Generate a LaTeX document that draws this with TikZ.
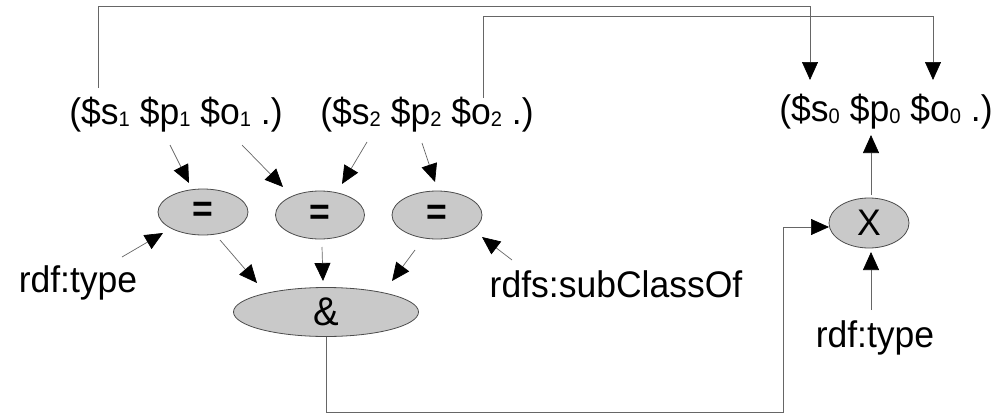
\documentclass[tikz,border=0pt]{standalone}
\usepackage{fontspec}
\setmainfont[FakeStretch=0.96]{Liberation Sans}
\usetikzlibrary{shapes.geometric,arrows.meta,calc}
\newcommand\subd[1]{\raisebox{-1.5pt}{\fontsize{21}{22}\selectfont #1}}
\begin{document}
\begin{tikzpicture}[x=1pt,y=-1pt,
  every node/.style={inner sep=0pt,font=\fontsize{37}{40}\selectfont},
  op/.style={ellipse,draw=black!70,line width=0.8pt,fill=black!21},
  arr/.style={draw=black!60,line width=0.7pt,-{Triangle[length=18pt,width=16pt,black]}},
  ln/.style={draw=black!60,line width=0.7pt}]
\useasboundingbox (0,0) rectangle (998,415);
% triples
\node (t1) at (176,115) {(\$s\subd{1} \$p\subd{1} \$o\subd{1} .)};
\node (t2) at (427,115) {(\$s\subd{2} \$p\subd{2} \$o\subd{2} .)};
\node (t0) at (886,112) {(\$s\subd{0} \$p\subd{0} \$o\subd{0} .)};
% operators
\node[op,minimum width=90pt,minimum height=46pt] (eq1) at (203,212) {\textbf{=}};
\node[op,minimum width=89pt,minimum height=48pt] (eq2) at (320,215) {\textbf{=}};
\node[op,minimum width=90pt,minimum height=48pt] (eq3) at (437,215) {\textbf{=}};
\node[op,minimum width=185pt,minimum height=49pt] (amp) at (326,312) {\fontsize{40}{42}\selectfont\&};
\node[op,minimum width=80pt,minimum height=50pt] (X) at (869,223) {X};
% labels
\node (l1) at (78,283) {rdf:type};
\node (l2) at (616,284) {rdfs:subClassOf};
\node (l3) at (875,338) {rdf:type};
% level coordinates
\coordinate (top1) at (0,6);
\coordinate (top2) at (0,16);
\coordinate (bot) at (783,412);
% arrows into = nodes
\draw[arr] ([shift={(-6,30)}]t1.center) -- ([shift={(-14,-29)}]eq1.center);
\draw[arr] ([shift={(66,30)}]t1.center) -- ([shift={(-37,-28)}]eq2.center);
\draw[arr] ([shift={(-60,27)}]t2.center) -- ([shift={(22,-31)}]eq2.center);
\draw[arr] ([shift={(-5,28)}]t2.center) -- ([shift={(-2,-33)}]eq3.center);
\draw[arr] ([shift={(44,-26)}]l1.center) -- ([shift={(-40,21)}]eq1.center);
\draw[arr] ([shift={(-104,-24)}]l2.center) -- ([shift={(45,22)}]eq3.center);
% arrows into &
\draw[arr] ([shift={(17,28)}]eq1.center) -- ([shift={(-69,-29)}]amp.center);
\draw[arr] ([shift={(2,32)}]eq2.center) -- ([shift={(-3,-31)}]amp.center);
\draw[arr] ([shift={(-22,35)}]eq3.center) -- ([shift={(66,-31)}]amp.center);
% & to X
\draw[arr] (amp.south) |- (bot) |- ([shift={(-40,4)}]X.center);
% X
\draw[arr] ([shift={(-4,-28)}]l3.center) -- ([shift={(2,29)}]X.center);
\draw[arr] ([shift={(2,-28)}]X.center) -- ([shift={(-15,23)}]t0.center);
% top feedback lines
\coordinate (s1) at ([shift={(-78,-27)}]t1.center);
\coordinate (e1) at ([shift={(-76,-32)}]t0.center);
\draw[arr] (s1) -- (s1 |- top1) -| (e1);
\coordinate (s2) at ([shift={(56,-17)}]t2.center);
\coordinate (e2) at ([shift={(47,-32)}]t0.center);
\draw[arr] (s2) -- (s2 |- top2) -| (e2);
\end{tikzpicture}
\end{document}
